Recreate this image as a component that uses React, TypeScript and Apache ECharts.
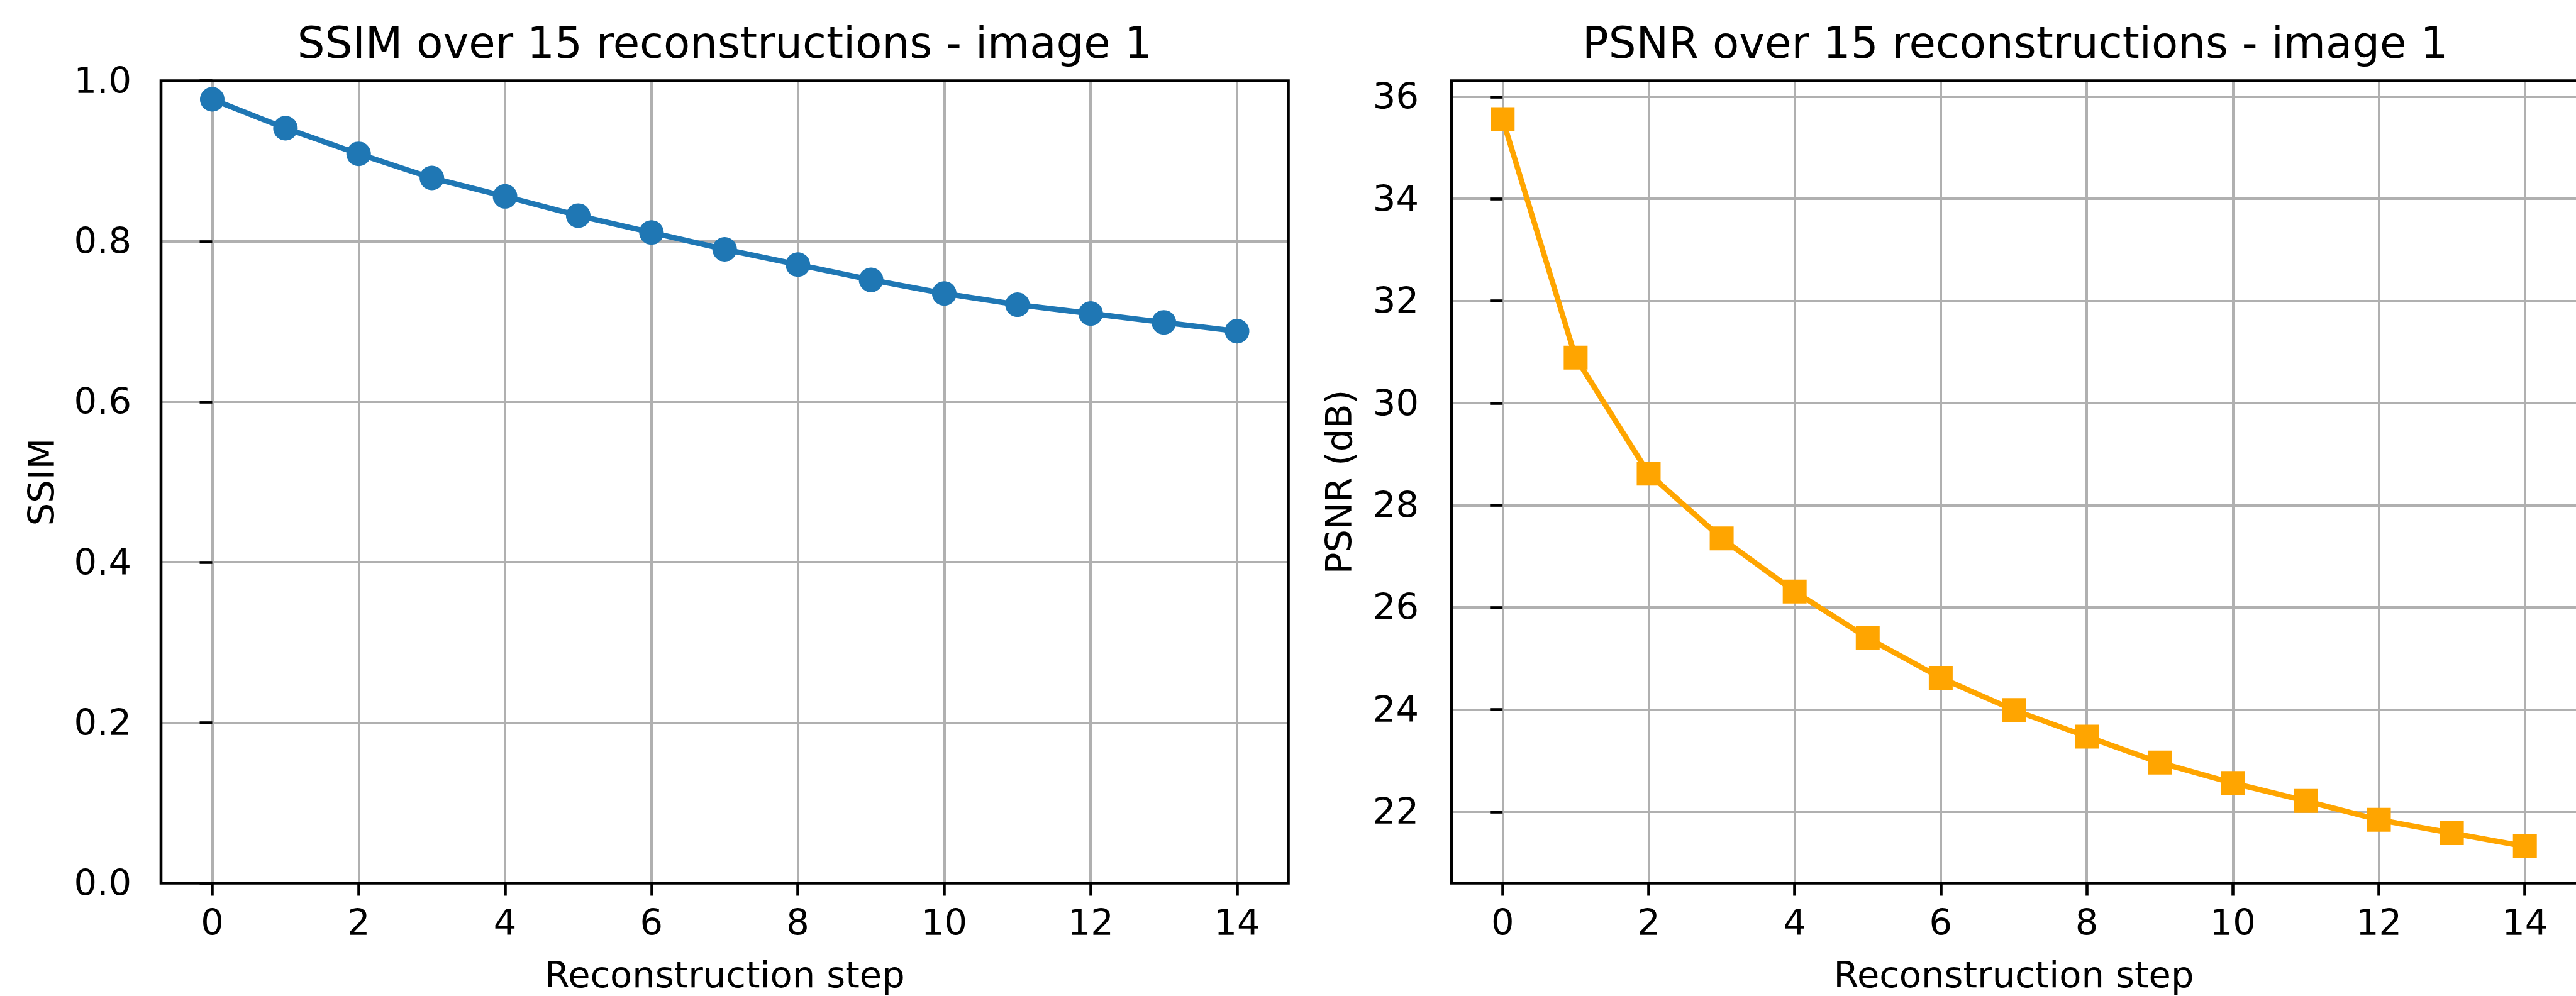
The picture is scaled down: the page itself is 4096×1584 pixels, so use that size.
import React, { useEffect, useRef } from "react";
import * as echarts from "echarts";

const steps = [0, 1, 2, 3, 4, 5, 6, 7, 8, 9, 10, 11, 12, 13, 14];
const ssimValues = [0.977, 0.941, 0.909, 0.879, 0.856, 0.832, 0.811, 0.79, 0.771, 0.752, 0.735, 0.721, 0.71, 0.699, 0.688];
const psnrValues = [35.56, 30.89, 28.62, 27.35, 26.31, 25.4, 24.62, 23.99, 23.47, 22.96, 22.56, 22.21, 21.84, 21.58, 21.32];
const xTicks = [0, 2, 4, 6, 8, 10, 12, 14];
const psnrTicks = [22, 24, 26, 28, 30, 32, 34, 36];
const titles = ["SSIM over 15 reconstructions - image 1", "PSNR over 15 reconstructions - image 1"];
const xName = "Reconstruction step";
const yNames = ["SSIM", "PSNR (dB)"];

export default function App() {
  const ref = useRef<HTMLDivElement>(null);
  useEffect(() => {
    const chart = echarts.init(ref.current!, null, { renderer: "svg" });
    const font = "DejaVu Sans";
    const top = 128.6;
    const height = 1275.9;
    const grids = [
      { left: 256, width: 1792.5 },
      { left: 2308, width: 1792.5 },
    ];
    const lab = { color: "#000", fontFamily: font, fontSize: 57.5 };
    const tick = { show: true, length: 20, inside: false, lineStyle: { color: "#000", width: 4.6 } };
    const split = { show: true, lineStyle: { color: "#b0b0b0", width: 4 } };

    const option: any = {
      animation: false,
      backgroundColor: "#fff",
      grid: grids.map((g) => ({ left: g.left, width: g.width, top, height, show: false })),
      xAxis: grids.map((g, i) => ({
        type: "value",
        gridIndex: i,
        min: -0.7,
        max: 14.7,
        name: xName,
        nameLocation: "middle",
        nameGap: 116.5,
        nameTextStyle: { ...lab },
        axisLine: { show: false },
        axisTick: { ...tick, customValues: xTicks },
        axisLabel: { ...lab, margin: 34, customValues: xTicks },
        splitLine: split,
      })),
      yAxis: [
        {
          type: "value",
          gridIndex: 0,
          min: 0,
          max: 1,
          interval: 0.2,
          name: yNames[0],
          nameLocation: "middle",
          nameGap: 161,
          nameTextStyle: { ...lab },
          axisLine: { show: false },
          axisTick: tick,
          axisLabel: { ...lab, margin: 47, showMinLabel: true, showMaxLabel: true, formatter: (v: number) => v.toFixed(1) },
          splitLine: { ...split, showMinLine: false, showMaxLine: false },
        },
        {
          type: "value",
          gridIndex: 1,
          min: 20.6,
          max: 36.31,
          name: yNames[1],
          nameLocation: "middle",
          nameGap: 149.5,
          nameTextStyle: { ...lab },
          axisLine: { show: false },
          axisTick: { ...tick, customValues: psnrTicks },
          axisLabel: { ...lab, margin: 52, customValues: psnrTicks },
          splitLine: split,
        },
      ],
      series: [
        {
          type: "line",
          xAxisIndex: 0,
          yAxisIndex: 0,
          data: steps.map((s, i) => [s, ssimValues[i]]),
          symbol: "circle",
          symbolSize: 39,
          showSymbol: true,
          lineStyle: { color: "#1f77b4", width: 8.6 },
          itemStyle: { color: "#1f77b4" },
          z: 3,
        },
        {
          type: "line",
          xAxisIndex: 1,
          yAxisIndex: 1,
          data: steps.map((s, i) => [s, psnrValues[i]]),
          symbol: "rect",
          symbolSize: 38,
          showSymbol: true,
          lineStyle: { color: "#ffa500", width: 8.6 },
          itemStyle: { color: "#ffa500" },
          z: 3,
        },
      ],
      graphic: [
        ...grids.map((g) => ({
          type: "rect",
          z: 100,
          silent: true,
          shape: { x: g.left, y: top, width: g.width, height },
          style: { fill: "none", stroke: "#000", lineWidth: 4.6 },
        })),
        ...grids.map((g, i) => ({
          type: "text",
          z: 100,
          x: g.left + g.width / 2,
          y: 67.5,
          style: {
            text: titles[i],
            fill: "#000",
            fontFamily: font,
            fontSize: 69,
            align: "center",
            verticalAlign: "middle",
            textAlign: "center",
            textVerticalAlign: "middle",
          },
        })),
      ],
    };
    chart.setOption(option);
    return () => chart.dispose();
  }, []);
  return (
    <div
      ref={ref}
      style={{ position: "fixed", left: 0, top: 0, width: 4096, height: 1584, background: "#fff" }}
    />
  );
}
